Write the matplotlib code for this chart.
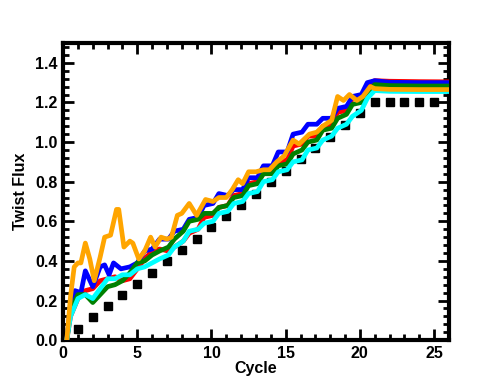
import matplotlib
matplotlib.use("Agg")
import matplotlib.pyplot as plt
from matplotlib.ticker import MultipleLocator

# ---------------- data ----------------
sq_cycle = [1, 2, 3, 4, 5, 6, 7, 8, 9, 10, 11, 12, 13, 14, 15, 16, 17, 18, 19, 20,
            21, 22, 23, 24, 25]
sq_flux = [0.057, 0.115, 0.17, 0.228, 0.285, 0.34, 0.40, 0.455, 0.513, 0.57,
           0.627, 0.684, 0.74, 0.80, 0.855, 0.912, 0.97, 1.026, 1.085, 1.145,
           1.20, 1.20, 1.20, 1.20, 1.20]

red_x = [0.25, 0.5, 1.0, 1.5, 2.0, 2.5, 3.0, 3.5, 4.0, 4.5, 5.0, 5.5, 6.0, 6.5,
         7.1, 7.5, 8.1, 8.5, 9.1, 9.5, 10.1, 10.5, 11.1, 11.5, 12.1, 12.5, 13.1,
         13.5, 14.1, 14.5, 15.1, 15.5, 16.1, 16.5, 17.1, 17.5, 18.1, 18.5, 19.1,
         19.5, 20.1, 20.5, 21.0, 22.0, 24.0, 26.0]
red_y = [0.0, 0.12, 0.21, 0.25, 0.26, 0.30, 0.31, 0.32, 0.30, 0.31, 0.36, 0.41,
         0.45, 0.46, 0.45, 0.47, 0.50, 0.54, 0.56, 0.62, 0.63, 0.67, 0.68, 0.73,
         0.74, 0.79, 0.80, 0.84, 0.85, 0.90, 0.91, 0.98, 0.99, 1.03, 1.03, 1.08,
         1.09, 1.15, 1.16, 1.22, 1.23, 1.29, 1.31, 1.307, 1.305, 1.304]

blue_x = [0.25, 0.5, 0.8, 1.2, 1.5, 2.0, 2.5, 2.8, 3.1, 3.4, 3.9, 4.5, 5.0, 5.5,
          6.0, 6.5, 7.1, 7.5, 8.1, 8.5, 9.1, 9.5, 10.1, 10.5, 11.1, 11.5, 12.1,
          12.5, 13.1, 13.5, 14.1, 14.5, 15.1, 15.5, 16.1, 16.5, 17.1, 17.5, 18.1,
          18.5, 19.1, 19.5, 20.1, 20.5, 21.0, 22.0, 24.0, 26.0]
blue_y = [0.0, 0.18, 0.25, 0.24, 0.35, 0.27, 0.37, 0.38, 0.33, 0.39, 0.36, 0.37,
          0.39, 0.45, 0.46, 0.51, 0.51, 0.55, 0.56, 0.61, 0.62, 0.68, 0.69, 0.74,
          0.73, 0.76, 0.76, 0.82, 0.82, 0.88, 0.88, 0.95, 0.95, 1.04, 1.05, 1.09,
          1.09, 1.12, 1.12, 1.17, 1.18, 1.23, 1.24, 1.30, 1.31, 1.302, 1.30, 1.30]

green_x = [0.25, 0.5, 1.0, 1.5, 2.0, 2.5, 3.0, 3.5, 4.0, 4.5, 5.0, 5.5, 6.0, 6.5,
           7.1, 7.5, 8.1, 8.5, 9.1, 9.5, 10.1, 10.5, 11.1, 11.5, 12.1, 12.5, 13.1,
           13.5, 14.1, 14.5, 15.1, 15.5, 16.1, 16.5, 17.1, 17.5, 18.1, 18.5, 19.1,
           19.5, 20.1, 20.5, 21.0, 22.0, 24.0, 26.0]
green_y = [0.0, 0.15, 0.23, 0.23, 0.19, 0.23, 0.27, 0.28, 0.30, 0.34, 0.39, 0.40,
           0.43, 0.45, 0.47, 0.51, 0.55, 0.60, 0.61, 0.64, 0.64, 0.67, 0.68, 0.72,
           0.73, 0.78, 0.79, 0.84, 0.84, 0.88, 0.89, 0.94, 0.96, 1.00, 1.01, 1.06,
           1.07, 1.12, 1.14, 1.19, 1.20, 1.25, 1.29, 1.285, 1.283, 1.283]

cyan_x = [0.25, 0.5, 1.0, 1.5, 2.0, 2.5, 3.0, 3.5, 4.0, 4.5, 5.0, 5.5, 6.0, 6.5,
          7.1, 7.5, 8.1, 8.5, 9.1, 9.5, 10.1, 10.5, 11.1, 11.5, 12.1, 12.5, 13.1,
          13.5, 14.1, 14.5, 15.1, 15.5, 16.1, 16.5, 17.1, 17.5, 18.1, 18.5, 19.1,
          19.5, 20.1, 20.5, 21.0, 22.0, 24.0, 26.0]
cyan_y = [0.0, 0.12, 0.21, 0.23, 0.21, 0.26, 0.31, 0.31, 0.33, 0.33, 0.36, 0.37,
          0.39, 0.41, 0.43, 0.47, 0.50, 0.55, 0.56, 0.59, 0.60, 0.64, 0.65, 0.69,
          0.70, 0.74, 0.75, 0.80, 0.81, 0.85, 0.86, 0.90, 0.91, 0.96, 0.97, 1.01,
          1.03, 1.07, 1.09, 1.13, 1.16, 1.22, 1.26, 1.256, 1.255, 1.255]

orange_x = [0.25, 0.5, 0.75, 1.0, 1.2, 1.5, 1.8, 2.1, 2.5, 2.8, 3.2, 3.6, 3.75,
            4.1, 4.5, 4.7, 5.1, 5.5, 5.9, 6.2, 6.6, 7.0, 7.3, 7.7, 8.0, 8.5, 9.0,
            9.6, 10.1, 10.5, 11.0, 11.4, 11.8, 12.1, 12.5, 13.0, 13.5, 13.9, 14.4,
            14.9, 15.5, 15.9, 16.6, 17.1, 17.5, 18.1, 18.5, 18.9, 19.3, 19.8,
            20.2, 20.7, 21.0, 22.0, 24.0, 26.0]
orange_y = [0.0, 0.22, 0.37, 0.39, 0.39, 0.49, 0.41, 0.30, 0.42, 0.52, 0.53, 0.66,
            0.66, 0.47, 0.50, 0.49, 0.41, 0.45, 0.52, 0.47, 0.52, 0.51, 0.52, 0.63,
            0.64, 0.69, 0.63, 0.71, 0.70, 0.72, 0.72, 0.76, 0.81, 0.79, 0.85, 0.85,
            0.86, 0.86, 0.90, 0.93, 1.01, 0.99, 1.04, 1.05, 1.08, 1.11, 1.23,
            1.21, 1.24, 1.21, 1.23, 1.28, 1.27, 1.266, 1.265, 1.265]

# ---------------- plot ----------------
plt.rcParams['font.family'] = ['Liberation Sans', 'DejaVu Sans']
plt.rcParams['font.weight'] = 'bold'

fig = plt.figure(figsize=(4.89, 3.91), dpi=100)
ax = fig.add_axes([0.129, 0.130, 0.789, 0.760])

ax.plot(sq_cycle, sq_flux, linestyle='none', marker='s', markersize=5.2,
        color='black', zorder=2)
lw = 3.4
for xs, ys, c in [(red_x, red_y, 'red'), (blue_x, blue_y, 'blue'),
                  (green_x, green_y, 'green'), (cyan_x, cyan_y, 'cyan'),
                  (orange_x, orange_y, 'orange')]:
    ax.plot(xs, ys, color=c, lw=lw, zorder=3, solid_joinstyle='round')

ax.set_xlim(0, 26)
ax.set_ylim(0, 1.5)
ax.xaxis.set_major_locator(MultipleLocator(5))
ax.xaxis.set_minor_locator(MultipleLocator(1))
ax.yaxis.set_minor_locator(MultipleLocator(0.04))
ax.set_yticks([0.0, 0.2, 0.4, 0.6, 0.8, 1.0, 1.2, 1.4])
ax.set_yticklabels(['0.0', '0.2', '0.4', '0.6', '0.8', '1.0', '1.2', '1.4'])

ax.tick_params(which='both', direction='in', top=True, right=True, width=2,
               labelsize=11.5, pad=4)
ax.tick_params(which='major', length=8)
ax.tick_params(which='minor', length=4)
for lab in ax.get_xticklabels() + ax.get_yticklabels():
    lab.set_fontweight('bold')
for s in ax.spines.values():
    s.set_linewidth(3)

ax.set_xlabel('Cycle', fontsize=11.5, fontweight='bold', labelpad=0)
ax.set_ylabel('Twist Flux', fontsize=11.5, fontweight='bold', labelpad=5)

fig.savefig('out.png', dpi=100)
